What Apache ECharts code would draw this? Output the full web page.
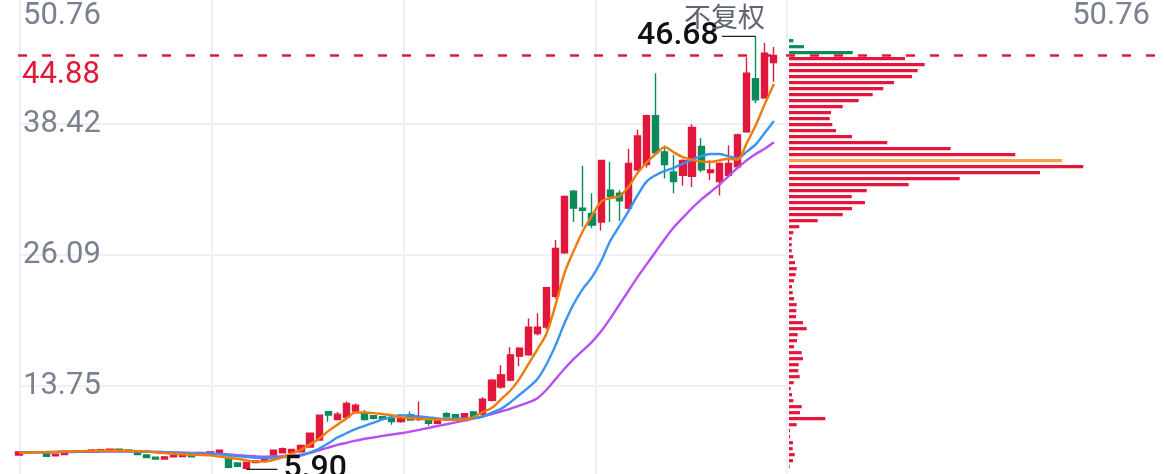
<!DOCTYPE html>
<html><head><meta charset="utf-8">
<script src="https://cdn.jsdelivr.net/npm/echarts@6/dist/echarts.min.js"></script>
<style>html,body{margin:0;padding:0;background:#fff;overflow:hidden}#c{width:1164px;height:474px}</style>
</head><body><div id="c"></div>
<script>
// [open, close, low, high]
const candles = [
[7.25,7.55,7.2,7.58],[7.52,7.55,7.48,7.6],[7.56,7.5,7.46,7.6],[7.35,7.12,7.08,7.5],[7.18,7.34,7.15,7.38],
[7.3,7.45,7.28,7.5],[7.64,7.52,7.48,7.68],[7.6,7.53,7.5,7.66],[7.55,7.72,7.52,7.75],[7.62,7.75,7.6,7.8],
[7.66,7.8,7.64,7.85],[7.8,7.72,7.68,7.84],[7.72,7.64,7.6,7.76],[7.6,7.3,7.28,7.64],[7.25,7.02,6.98,7.3],
[7.05,6.88,6.85,7.08],[6.88,7.08,6.85,7.1],[7.08,7.2,7.05,7.24],[7.1,7.22,7.08,7.26],[7.24,7.08,7.05,7.28],
[7.28,7.5,7.25,7.55],[7.48,7.55,7.45,7.6],[7.4,7.7,7.36,7.75],[7.05,6.1,6.0,7.1],[6.5,6.2,6.12,6.55],
[6.0,6.55,5.9,6.62],[6.55,6.7,6.5,6.76],[6.7,7.1,6.66,7.15],[7.25,7.7,7.2,7.75],[7.45,7.85,7.42,7.95],
[7.5,7.78,7.45,7.85],[7.56,8.15,7.5,8.25],[8.0,9.3,7.95,9.35],[8.66,11.0,8.6,11.05],[11.33,11.02,10.39,11.4],
[10.6,11.1,10.55,11.3],[10.8,12.1,10.7,12.3],[11.4,11.95,11.3,12.1],[11.2,10.6,10.5,11.5],[10.95,10.7,10.6,11.0],
[10.85,10.65,10.6,10.9],[10.72,10.4,10.1,10.8],[10.4,10.72,10.3,10.8],[11.05,10.55,10.5,11.35],[10.6,10.85,10.45,12.3],
[10.6,10.25,10.0,10.65],[10.25,10.55,10.2,10.6],[11.15,10.85,10.75,11.3],[11.05,10.75,10.7,11.1],[10.8,11.15,10.75,11.2],
[11.3,10.86,10.8,11.4],[11.1,12.5,11.0,12.7],[12.4,14.3,12.3,14.4],[13.65,14.8,13.5,15.7],[14.3,16.67,14.2,17.4],
[16.56,17.3,15.6,17.4],[16.7,19.3,16.6,20.1],[18.7,19.3,18.5,20.6],[19.3,23.0,19.1,23.1],[22.2,26.7,22.0,27.5],
[26.3,31.6,26.2,31.7],[32.1,30.5,29.2,32.2],[30.5,30.3,28.75,34.5],[30.0,28.9,28.6,31.9],[29.2,35.0,28.4,35.05],
[32.2,31.6,29.2,34.87],[31.9,31.2,29.3,32.2],[30.5,34.7,30.4,36.1],[34.1,37.3,34.0,37.9],[34.6,39.2,34.3,39.3],
[39.2,35.7,35.5,43.2],[35.8,34.6,33.3,36.4],[33.9,33.0,31.9,35.5],[33.6,35.0,32.6,35.1],[33.5,38.1,32.5,38.4],
[36.3,34.1,33.9,37.1],[33.85,34.1,33.15,35.0],[33.0,34.7,31.7,34.8],[33.6,34.7,33.5,36.4],[34.4,37.4,34.2,37.5],
[37.7,43.2,37.6,44.7],[42.7,40.7,40.4,46.68],[40.9,45.1,40.8,46.05],[44.2,44.88,42.4,45.67]
];
const ma5 = [
7.45,7.47,7.5,7.52,7.55,7.58,7.6,7.62,7.64,7.65,7.66,7.66,7.65,7.62,7.57,7.5,7.43,7.37,7.32,7.28,
7.26,7.22,7.1,7.0,6.9,6.75,6.65,6.63,6.8,7.05,7.4,7.75,8.25,8.8,9.5,10.1,10.7,11.25,11.25,11.2,
11.1,11.0,10.8,10.72,10.67,10.62,10.6,10.57,10.55,10.6,10.85,11.3,11.7,12.5,13.3,14.4,15.8,17.2,18.7,21.4,
24.45,26.5,28.35,29.8,31.1,31.45,31.6,32.5,33.8,34.8,35.6,36.25,35.75,35.3,35.05,34.9,34.85,35.0,35.15,35.05,
36.6,38.3,40.3,42.2
];
const ma10 = [
7.5,7.5,7.52,7.53,7.55,7.57,7.58,7.6,7.61,7.62,7.62,7.62,7.61,7.6,7.58,7.55,7.52,7.48,7.45,7.42,
7.4,7.38,7.33,7.25,7.15,7.07,7.0,6.97,7.0,7.05,7.1,7.2,7.5,7.85,8.35,8.9,9.3,9.7,10.0,10.3,
10.6,10.85,11.0,10.95,10.88,10.8,10.7,10.65,10.65,10.68,10.72,10.9,11.25,11.6,12.2,12.9,13.6,14.4,15.8,17.6,
19.7,21.5,22.9,24.0,25.5,27.4,28.8,30.2,31.7,33.0,33.6,34.0,34.3,34.7,35.05,35.4,35.6,35.6,35.4,35.2,
35.8,36.5,37.6,38.7
];
const ma20 = [
7.48,7.49,7.5,7.51,7.52,7.53,7.54,7.55,7.56,7.57,7.58,7.58,7.58,7.57,7.56,7.54,7.52,7.5,7.47,7.45,
7.42,7.39,7.35,7.3,7.24,7.18,7.13,7.1,7.12,7.15,7.22,7.28,7.45,7.7,7.95,8.2,8.4,8.6,8.78,8.9,
9.05,9.18,9.3,9.45,9.62,9.8,9.98,10.15,10.32,10.5,10.7,10.88,11.1,11.35,11.6,11.9,12.2,12.6,13.4,14.4,
15.4,16.3,17.1,17.9,18.9,20.1,21.4,22.7,24.0,25.2,26.4,27.6,28.7,29.6,30.5,31.3,32.0,32.7,33.5,34.3,
35.0,35.6,36.1,36.7
];
// volume-at-price profile, top bucket first
const profileVolumes = [
4.3,15,63.7,116,135.7,128.7,123,105,94.3,83.7,69.7,53.7,42,40.7,43.3,47,63,98.3,161.7,226.3,
273,294.3,251,170.7,119.7,77.7,62.7,76,63,53.7,28.7,10.3,4.3,2.7,2.7,2.7,4.3,6,7.7,6.7,
5,3,3.7,5,7.7,7.3,7,14,17.7,8.7,8,5,12.7,14,9.7,9.3,10.7,4.7,1.7,3,
4.3,12.7,11,36.3,7.7,1,1,4,3.7,5.7,4,0.7
];
const profileAboveCount = 3;   // buckets above last price (green)
const profileCostIndex = 20;   // highlighted cost bucket (orange)
const yTicks = [1.415, 13.75, 26.09, 38.42, 50.76];
const categories = candles.map((_, i) => 'D' + (i + 1));
const profileCats = profileVolumes.map((_, i) => 'P' + i);
const lastClose = candles[candles.length - 1][1];

const RED = '#e3163b', GREEN = '#0b8a5b', ORANGE = '#f07a0a', BLUE = '#3a93ee', PURPLE = '#b84ff1';
const GRAY = '#7b8190', GRID = '#eff0f5';
const FONT = 'Roboto, "Liberation Sans", sans-serif';
const yMin = yTicks[0], yMax = yTicks[yTicks.length - 1], yInt = (yMax - yMin) / (yTicks.length - 1);
const fmt = v => { let b = yTicks[0]; yTicks.forEach(t => { if (Math.abs(t - v) < Math.abs(b - v)) b = t; }); return b.toFixed(2); };
const hidden = { axisLine: {show:false}, axisTick: {show:false}, axisLabel: {show:false}, splitLine: {show:false} };

const chart = echarts.init(document.getElementById('c'), null, {renderer: 'canvas'});
const option = {
  animation: false,
  backgroundColor: '#fff',
  grid: [
    {left: 20, top: -7, width: 767, height: 524, outerBoundsMode: 'none', containLabel: false},
    {left: 14.45, top: -7, width: 764, height: 524, outerBoundsMode: 'none', containLabel: false},
    {left: 789, top: 37.7, right: 0, height: 432, outerBoundsMode: 'none', containLabel: false},
    {left: 18, top: -7, right: 0, height: 524, outerBoundsMode: 'none', containLabel: false}
  ],
  xAxis: [
    {gridIndex: 0, type: 'value', min: 0, max: 4, interval: 1, axisLine: {show:false}, axisTick: {show:false}, axisLabel: {show:false},
     splitLine: {show: true, lineStyle: {color: GRID, width: 2}}},
    Object.assign({gridIndex: 1, type: 'category', data: categories, boundaryGap: true}, hidden),
    Object.assign({gridIndex: 2, type: 'value', min: 0, max: 375}, hidden),
    Object.assign({gridIndex: 3, type: 'value', min: 0, max: 1}, hidden)
  ],
  yAxis: [
    {gridIndex: 0, type: 'value', min: yMin, max: yMax, interval: yInt, axisLine: {show:false}, axisTick: {show:false},
     splitLine: {show: true, lineStyle: {color: GRID, width: 2}},
     axisLabel: {inside: true, margin: 3, color: GRAY, fontSize: 31, fontFamily: FONT, showMinLabel: false, showMaxLabel: false, formatter: fmt}},
    Object.assign({gridIndex: 1, type: 'value', min: yMin, max: yMax}, hidden),
    Object.assign({gridIndex: 2, type: 'category', data: profileCats, inverse: true, boundaryGap: true}, hidden),
    Object.assign({gridIndex: 3, type: 'value', min: yMin, max: yMax}, hidden)
  ],
  series: [
    {type: 'candlestick', xAxisIndex: 1, yAxisIndex: 1, data: candles.map(c => [c[0], c[1], c[2], c[3]]), barWidth: 6.6,
     itemStyle: {color: RED, color0: GREEN, borderColor: RED, borderColor0: GREEN, borderWidth: 1.4}, z: 3},
    {type: 'line', xAxisIndex: 1, yAxisIndex: 1, data: ma20, showSymbol: false, smooth: 0.3, lineStyle: {color: PURPLE, width: 2.4}, z: 4},
    {type: 'line', xAxisIndex: 1, yAxisIndex: 1, data: ma10, showSymbol: false, smooth: 0.3, lineStyle: {color: BLUE, width: 2.4}, z: 5},
    {type: 'line', xAxisIndex: 1, yAxisIndex: 1, data: ma5, showSymbol: false, smooth: 0.3, lineStyle: {color: ORANGE, width: 2.4}, z: 6},
    {type: 'bar', xAxisIndex: 2, yAxisIndex: 2, barWidth: 3.2,
     data: profileVolumes.map((v, i) => ({value: v, itemStyle: {color: i < profileAboveCount ? GREEN : (i === profileCostIndex ? '#f6a04c' : RED)}})), z: 3},
    {type: 'line', xAxisIndex: 3, yAxisIndex: 3, data: [[0, lastClose]], symbol: 'none', lineStyle: {opacity: 0}, z: 8,
     markLine: {silent: true, symbol: 'none', animation: false,
       lineStyle: {color: '#e0193a', width: 2.6, type: [9, 15]},
       label: {show: true, position: 'insideStartBottom', distance: 4, formatter: lastClose.toFixed(2), color: '#e0193a', fontSize: 31, fontFamily: FONT},
       data: [{yAxis: lastClose}]}}
  ]
};
chart.setOption(option);

let hiIdx = 0, loIdx = 0;
candles.forEach((c, i) => { if (c[3] > candles[hiIdx][3]) hiIdx = i; if (c[2] < candles[loIdx][2]) loIdx = i; });
const pHi = chart.convertToPixel({gridIndex: 1}, [hiIdx, candles[hiIdx][3]]);
const pLo = chart.convertToPixel({gridIndex: 1}, [loIdx, candles[loIdx][2]]);
chart.setOption({graphic: [
  {type: 'line', shape: {x1: pHi[0], y1: pHi[1], x2: pHi[0] - 34, y2: pHi[1]}, style: {stroke: '#222', lineWidth: 1.3}, z: 20},
  {type: 'text', x: pHi[0] - 37, y: pHi[1], style: {text: candles[hiIdx][3].toFixed(2), fill: '#111', font: '500 32px ' + FONT, align: 'right', verticalAlign: 'middle'}, z: 20},
  {type: 'line', shape: {x1: pLo[0], y1: pLo[1], x2: pLo[0] + 31, y2: pLo[1]}, style: {stroke: '#222', lineWidth: 1.3}, z: 20},
  {type: 'text', x: pLo[0] + 37, y: pLo[1], style: {text: candles[loIdx][2].toFixed(2), fill: '#111', font: '500 32px ' + FONT, align: 'left', verticalAlign: 'middle'}, z: 20},
  {type: 'text', x: 23, y: 16.5, style: {text: yMax.toFixed(2), fill: GRAY, font: '31px ' + FONT, align: 'left', verticalAlign: 'middle'}, z: 20},
  {type: 'text', x: 1150, y: 16.5, style: {text: yMax.toFixed(2), fill: GRAY, font: '31px ' + FONT, align: 'right', verticalAlign: 'middle'}, z: 20},
  {type: 'text', x: 765, y: 17, style: {text: '不复权', fill: '#5f6472', font: '27px "Noto Sans CJK SC", sans-serif', align: 'right', verticalAlign: 'middle'}, z: 20}
]});
</script></body></html>
